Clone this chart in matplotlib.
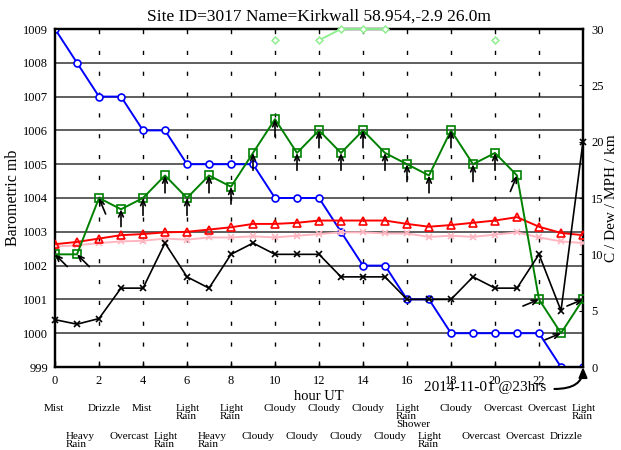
import numpy as np
import matplotlib
matplotlib.use("Agg")
import matplotlib.pyplot as plt

plt.rcParams['font.family'] = ['Liberation Serif', 'DejaVu Serif']

nan = np.nan
hours = list(range(25))
pressure = [1009, 1008, 1007, 1007, 1006, 1006, 1005, 1005, 1005, 1005, 1004, 1004, 1004,
            1003, 1002, 1002, 1001, 1001, 1000, 1000, 1000, 1000, 1000, 999, 999]
temp = [10.9, 11.1, 11.4, 11.7, 11.8, 11.95, 12.0, 12.2, 12.4, 12.7, 12.7, 12.8, 13.0,
        13.0, 13.0, 13.0, 12.7, 12.45, 12.6, 12.8, 13.0, 13.3, 12.45, 11.9, 11.7]
dew = [10.7, 10.8, 11.0, 11.15, 11.2, 11.4, 11.3, 11.5, 11.5, 11.6, 11.5, 11.65, 11.8,
       11.95, 11.95, 11.85, 11.85, 11.55, 11.65, 11.55, 11.75, 11.95, 11.5, 11.15, 11.0]
wind_mph = [10, 10, 15, 14, 15, 17, 15, 17, 16, 19, 22, 19, 21, 19, 21, 19, 18, 17, 21,
            18, 19, 17, 6, 3, 6]
wind_from = [135, 135, 157.5, 180, 180, 180, 180, 180, 180, 180, 180, 180, 180, 180, 180,
             180, 180, 180, 180, 180, 180, 202.5, 247.5, 247.5, 247.5]
gust_mph = [nan, nan, nan, nan, nan, nan, nan, nan, nan, nan, 29, nan, 29, 30, 30, 30,
            nan, nan, nan, nan, 29, nan, nan, nan, nan]
visibility = [4.2, 3.8, 4.3, 7, 7, 11, 8, 7, 10, 11, 10, 10, 10, 8, 8, 8, 6, 6, 6, 8, 7,
              7, 10, 5, 20]
weather = ["Mist", "Heavy\nRain", "Drizzle", "Overcast", "Mist", "Light\nRain",
           "Light\nRain", "Heavy\nRain", "Light\nRain", "Cloudy", "Cloudy", "Cloudy",
           "Cloudy", "Cloudy", "Cloudy", "Cloudy", "Light\nRain\nShower", "Light\nRain",
           "Cloudy", "Overcast", "Overcast", "Overcast", "Overcast", "Drizzle",
           "Light\nRain"]
xticks = list(range(0, 24, 2))
left_ticks = list(range(999, 1010))
right_ticks = list(range(0, 31, 5))
title = "Site ID=3017 Name=Kirkwall 58.954,-2.9 26.0m"
stamp = "2014-11-01 @23hrs"

W, H = 621, 450
fig = plt.figure(figsize=(W / 100, H / 100), dpi=100)
ax = fig.add_axes([55 / W, (H - 367) / H, (583 - 55) / W, (367 - 29) / H])
ax2 = ax.twinx()

ax.set_xlim(0, 24)
ax.set_ylim(999, 1009)
ax2.set_ylim(0, 30)

# grid
for v in left_ticks[1:-1]:
    ax.axhline(v, color='#333333', lw=1.1, zorder=1)
for v in xticks[1:]:
    ax.axvline(v, color='black', lw=1.0, linestyle=(0, (3, 12)), zorder=1)

ax.plot(hours, pressure, color='blue', lw=1.4, marker='o', ms=5, mfc='white',
        mec='blue', mew=1.2, zorder=3)

ax2.plot(hours, gust_mph, color='#90ee90', lw=1.4, marker='D', ms=3.5, mfc='white',
         mec='#90ee90', mew=1.1, zorder=3, clip_on=False)
ax2.plot(hours, dew, color='#ffb6c1', lw=1.4, marker='x', ms=5, mew=1.2, zorder=3)
ax2.plot(hours, temp, color='red', lw=1.4, marker='^', ms=5.5, mfc='none', mec='red',
         mew=1.2, zorder=3)
ax2.plot(hours, wind_mph, color='green', lw=1.4, marker='s', ms=5.5, mfc='none',
         mec='green', mew=1.2, zorder=3)
ax2.plot(hours, visibility, color='black', lw=1.2, marker='x', ms=5, mew=1.2, zorder=4,
         clip_on=False)

# wind direction arrows
L = 12.5
for h, w, d in zip(hours, wind_mph, wind_from):
    p = np.deg2rad((d + 180) % 360)
    ax2.annotate("", xy=(h, w), xytext=(-L * np.sin(p), -L * np.cos(p)),
                 textcoords='offset points', annotation_clip=False,
                 arrowprops=dict(arrowstyle='->,head_length=0.4,head_width=0.17',
                                 color='black', lw=1.2, shrinkA=0, shrinkB=0), zorder=5)

# ticks
ax.set_xticks(xticks)
ax.set_yticks(left_ticks)
ax.tick_params(axis='x', direction='in', length=4, width=1, labelsize=9, pad=6)
ax.tick_params(axis='y', direction='in', length=0, labelsize=9, pad=5)
ax2.set_yticks(right_ticks)
ax2.tick_params(axis='y', direction='in', length=3, labelsize=9, pad=6)
for a in (ax, ax2):
    for s in a.spines.values():
        s.set_linewidth(1.6)

ax.set_title(title, fontsize=12.5, pad=6)
ax.set_xlabel("hour UT", fontsize=10.5, labelpad=2)
ax.set_ylabel("Barometric mb", fontsize=11.5)
ax2.set_ylabel("C / Dew / MPH / km", fontsize=11)
ax.yaxis.set_label_coords(-0.064, 0.5)
ax2.yaxis.set_label_coords(1.041, 0.5)

# date stamp with curved arrow
ax.text(19.57, 998.38, stamp, fontsize=11, ha='center', va='center', zorder=6)
ax.annotate("", xy=(24, 999), xytext=(22.7, 998.35), annotation_clip=False,
            arrowprops=dict(arrowstyle='-|>,head_length=0.6,head_width=0.25',
                            connectionstyle='angle3,angleA=0,angleB=90',
                            color='black', lw=1.5, shrinkA=0, shrinkB=0), zorder=6)

# weather descriptions
px_per_h = (583 - 55) / 24
for h, wtxt in zip(hours, weather):
    xpix = 55 + (h - 0.5) * px_per_h
    ytop = 404 if h % 2 == 0 else 432
    fig.text(xpix / W, 1 - ytop / H, wtxt, fontsize=8, ha='left', va='top',
             linespacing=0.85)

fig.savefig("out.png", dpi=100)
